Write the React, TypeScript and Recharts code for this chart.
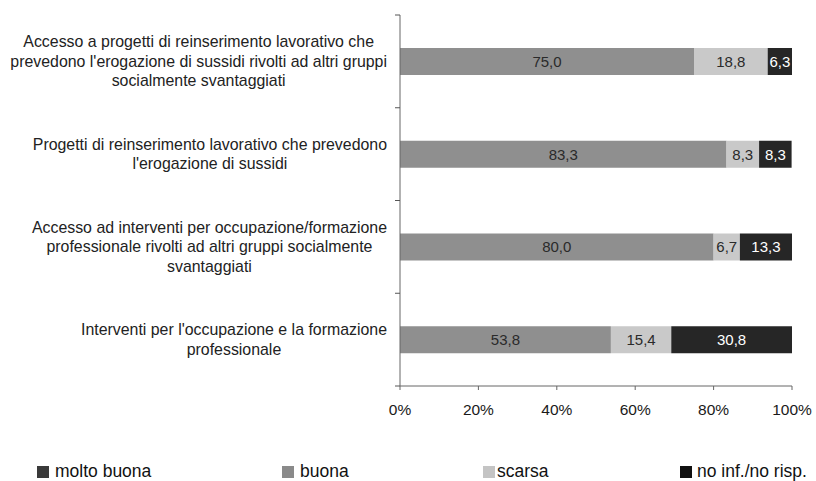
import React from "react";
import { BarChart, Bar, XAxis, YAxis, LabelList } from "recharts";

const categories = [
  "Accesso a progetti di reinserimento lavorativo che\nprevedono l'erogazione di sussidi rivolti ad altri gruppi\nsocialmente svantaggiati",
  "Progetti di reinserimento lavorativo che prevedono\nl'erogazione di sussidi",
  "Accesso ad interventi per occupazione/formazione\nprofessionale rivolti ad altri gruppi socialmente\nsvantaggiati",
  "Interventi per l'occupazione e la formazione\nprofessionale",
];

const moltoBuona = [0, 0, 0, 0];
const buona = [75.0, 83.3, 80.0, 53.8];
const scarsa = [18.8, 8.3, 6.7, 15.4];
const noInf = [6.3, 8.3, 13.3, 30.8];

const xTicks = [0, 20, 40, 60, 80, 100];

const series = [
  { key: "moltoBuona", label: "molto buona", color: "#3d3d3d", legend: "#3a3a3a", text: "#fff" },
  { key: "buona", label: "buona", color: "#8f8f8f", legend: "#8a8a8a", text: "#2a2a2a" },
  { key: "scarsa", label: "scarsa", color: "#c9c9c9", legend: "#c4c4c4", text: "#2a2a2a" },
  { key: "noInf", label: "no inf./no risp.", color: "#262626", legend: "#111111", text: "#ffffff" },
];

const data = categories.map((name, i) => ({
  name,
  moltoBuona: moltoBuona[i],
  buona: buona[i],
  scarsa: scarsa[i],
  noInf: noInf[i],
}));

const FONT = '"Liberation Sans", Arial, sans-serif';
const CAT_SIZE = 15.9;
const PLOT_TOP = 15;
const PLOT_BOTTOM = 386;
const BAND = (PLOT_BOTTOM - PLOT_TOP) / categories.length;

let ctx: CanvasRenderingContext2D | null = null;
const measure = (s: string) => {
  if (!ctx) ctx = document.createElement("canvas").getContext("2d");
  if (!ctx) return s.length * 7.5;
  ctx.font = `${CAT_SIZE}px ${FONT}`;
  return ctx.measureText(s).width;
};

const fmt = (v: number) => (v ? v.toFixed(1).replace(".", ",") : "");

const CategoryTick = (props: any) => {
  const { x, y, payload, index } = props;
  const lines = String(payload.value).split("\n");
  const maxW = Math.max(...lines.map(measure));
  const cx = x - maxW / 2;
  const lh = 19.5;
  const startY = y - ((lines.length - 1) * lh) / 2;
  const axisX = x + 13;
  return (
    <g>
      <line x1={axisX - 5} x2={axisX} y1={y - BAND / 2} y2={y - BAND / 2} stroke="#555" />
      {index === categories.length - 1 && (
        <line x1={axisX - 5} x2={axisX} y1={y + BAND / 2} y2={y + BAND / 2} stroke="#555" />
      )}
      <text textAnchor="middle" fontFamily={FONT} fontSize={CAT_SIZE} fill="#222">
        {lines.map((l, i) => (
          <tspan key={i} x={cx} y={startY + i * lh} dy="0.35em">
            {l}
          </tspan>
        ))}
      </text>
    </g>
  );
};

export default function App() {
  return (
    <div style={{ position: "absolute", left: 0, top: 0, width: 816, height: 481, background: "#fff" }}>
      <BarChart
        width={816}
        height={481}
        data={data}
        layout="vertical"
        margin={{ top: PLOT_TOP, right: 24, bottom: 65, left: 0 }}
        barSize={27}
      >
        <XAxis
          type="number"
          domain={[0, 100]}
          ticks={xTicks}
          allowDataOverflow
          tickFormatter={(v) => `${v}%`}
          height={30}
          tickSize={4}
          tickMargin={14}
          stroke="#666"
          tick={{ fill: "#1a1a1a", fontSize: 15.5, fontFamily: FONT }}
        />
        <YAxis
          type="category"
          dataKey="name"
          width={400}
          tickSize={5}
          tickMargin={8}
          tickLine={false}
          stroke="#666"
          tick={<CategoryTick />}
          interval={0}
        />
        {series.map((s) => (
          <Bar key={s.key} dataKey={s.key} stackId="a" fill={s.color} isAnimationActive={false}>
            <LabelList
              dataKey={s.key}
              position="center"
              formatter={(v: any) => fmt(Number(v))}
              fill={s.text}
              fontSize={15}
              fontFamily={FONT}
            />
          </Bar>
        ))}
      </BarChart>
      {[
        { sq: 37, tx: 55 },
        { sq: 282, tx: 300 },
        { sq: 483, tx: 497 },
        { sq: 680, tx: 697 },
      ].map((p, i) => (
        <React.Fragment key={series[i].key}>
          <div
            style={{
              position: "absolute",
              left: p.sq,
              top: 466,
              width: 12,
              height: 12,
              background: series[i].legend,
            }}
          />
          <div
            style={{
              position: "absolute",
              left: p.tx,
              top: 461,
              fontFamily: FONT,
              fontSize: 17.5,
              lineHeight: "20px",
              color: "#111",
              whiteSpace: "nowrap",
            }}
          >
            {series[i].label}
          </div>
        </React.Fragment>
      ))}
    </div>
  );
}
